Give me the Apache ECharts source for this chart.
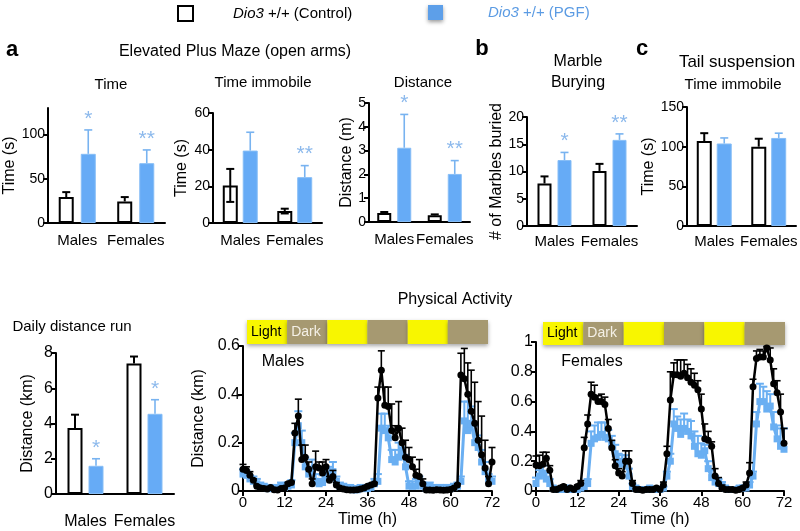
<!DOCTYPE html>
<html><head><meta charset="utf-8">
<script src="https://cdn.jsdelivr.net/npm/echarts@6/dist/echarts.min.js"></script>
<style>html,body{margin:0;padding:0;background:#fff}#c{width:800px;height:531px}</style>
</head><body><div id="c"></div>
<script>
// ---------------- data ----------------
const groups = ['Males', 'Females'];

const epmTimeCtrl = [29.3, 24.4], epmTimeCtrlSem = [5.6, 4.9];
const epmTimePgf = [78.2, 67.6], epmTimePgfSem = [27, 15];
const epmTimeSig = ['*', '**'];

const epmImmCtrl = [20.5, 6.5], epmImmCtrlSem = [9, 1.3];
const epmImmPgf = [39.5, 25], epmImmPgfSem = [10, 6.3];
const epmImmSig = ['', '**'];

const epmDistCtrl = [0.38, 0.28], epmDistCtrlSem = [0.04, 0.04];
const epmDistPgf = [3.12, 2.02], epmDistPgfSem = [1.4, 0.56];
const epmDistSig = ['*', '**'];

const marbleCtrl = [7.8, 10.1], marbleCtrlSem = [1.3, 1.3];
const marblePgf = [12.1, 15.8], marblePgfSem = [1.4, 1.1];
const marbleSig = ['*', '**'];

const tailCtrl = [107, 100], tailCtrlSem = [10, 10];
const tailPgf = [104, 111], tailPgfSem = [7, 6];
const tailSig = ['', ''];

const dailyCtrl = [3.75, 7.4], dailyCtrlSem = [0.75, 0.4];
const dailyPgf = [1.6, 4.55], dailyPgfSem = [0.4, 0.8];
const dailySig = ['*', '*'];

const hours = [0,1,2,3,4,5,6,7,8,9,10,11,12,13,14,15,16,17,18,19,20,21,22,23,24,25,26,27,28,29,30,31,32,33,34,35,36,37,38,39,40,41,42,43,44,45,46,47,48,49,50,51,52,53,54,55,56,57,58,59,60,61,62,63,64,65,66,67,68,69,70,71,72];

const malesCtrl = [0.09,0.085,0.065,0.045,0.02,0.012,0.01,0.008,0.015,0.005,
 0.004,0.01,0.012,0.03,0.035,0.24,0.31,0.13,0.14,0.09,
 0.03,0.10,0.095,0.075,0.10,0.045,0.06,0.025,0.012,0.008,
 0.005,0.004,0.004,0.005,0.008,0.012,0.02,0.025,0.03,0.385,
 0.50,0.355,0.35,0.25,0.22,0.26,0.2,0.14,0.13,0.10,
 0.065,0.06,0.03,0.004,0.004,0.003,0.005,0.004,0.003,0.004,
 0.006,0.012,0.025,0.48,0.465,0.40,0.33,0.28,0.21,0.15,
 0.095,0.03,0.12];
const malesCtrlSem = [0.02,0.015,0.015,0.005,0.005,0.003,0.003,0.003,0.003,0.003,
 0.003,0.003,0.003,0.005,0.005,0.04,0.07,0.06,0.05,0.03,
 0.02,0.065,0.025,0.045,0.03,0.015,0.025,0.01,0.003,0.003,
 0.003,0.003,0.003,0.003,0.003,0.003,0.003,0.003,0.005,0.045,
 0.08,0.075,0.08,0.11,0.05,0.11,0.06,0.07,0.05,0.04,
 0.025,0.07,0.02,0.003,0.003,0.003,0.003,0.003,0.003,0.003,
 0.003,0.003,0.005,0.09,0.125,0.13,0.17,0.17,0.16,0.16,
 0.115,0.03,0.06];
const malesPgf = [0.07,0.065,0.05,0.04,0.03,0.02,0.015,0.01,0.01,0.01,
 0.01,0.02,0.015,0.02,0.025,0.2,0.27,0.2,0.1,0.07,
 0.09,0.04,0.03,0.035,0.05,0.07,0.08,0.04,0.02,0.015,
 0.01,0.01,0.005,0.005,0.01,0.01,0.01,0.015,0.03,0.04,
 0.26,0.25,0.22,0.13,0.12,0.14,0.17,0.1,0.02,0.02,
 0.02,0.04,0.02,0.01,0.02,0.01,0.01,0.01,0.01,0.01,
 0.01,0.015,0.02,0.04,0.29,0.25,0.28,0.2,0.18,0.12,
 0.08,0.05,0.04];
const malesPgfSem = [0.02,0.02,0.015,0.02,0.02,0.015,0.015,0.015,0.015,0.015,
 0.015,0.015,0.015,0.015,0.02,0.04,0.06,0.05,0.04,0.03,
 0.04,0.03,0.02,0.03,0.05,0.03,0.04,0.02,0.015,0.015,
 0.015,0.015,0.015,0.015,0.015,0.015,0.015,0.015,0.02,0.03,
 0.06,0.07,0.05,0.04,0.05,0.06,0.03,0.05,0.02,0.02,
 0.03,0.02,0.015,0.015,0.015,0.015,0.015,0.015,0.015,0.015,
 0.015,0.015,0.015,0.02,0.08,0.12,0.07,0.07,0.05,0.05,
 0.04,0.02,0.02];
const femalesCtrl = [0.175,0.17,0.18,0.22,0.14,0.01,0.01,0.02,0.03,0.01,
 0.02,0.01,0.03,0.05,0.29,0.45,0.65,0.63,0.6,0.6,
 0.58,0.42,0.29,0.17,0.12,0.1,0.2,0.2,0.05,0.01,
 0.01,0.005,0.01,0.01,0.01,0.02,0.01,0.04,0.25,0.61,
 0.78,0.78,0.77,0.79,0.76,0.73,0.71,0.68,0.55,0.35,
 0.34,0.3,0.1,0.05,0.02,0.01,0.01,0.01,0.005,0.01,
 0.02,0.04,0.12,0.7,0.89,0.9,0.9,0.96,0.88,0.72,
 0.66,0.53,0.32];
const femalesCtrlSem = [0.06,0.07,0.08,0.04,0.03,0.01,0.01,0.01,0.01,0.01,
 0.01,0.01,0.01,0.02,0.07,0.06,0.08,0.08,0.04,0.05,
 0.05,0.06,0.05,0.04,0.03,0.03,0.07,0.07,0.02,0.01,
 0.01,0.01,0.01,0.01,0.01,0.01,0.01,0.02,0.05,0.19,
 0.08,0.1,0.11,0.09,0.09,0.09,0.08,0.06,0.1,0.1,
 0.06,0.03,0.05,0.04,0.02,0.01,0.01,0.01,0.01,0.01,
 0.01,0.02,0.07,0.05,0.05,0.05,0.04,0.01,0.08,0.1,
 0.08,0.12,0.1];
const femalesPgf = [0.05,0.1,0.12,0.08,0.05,0.02,0.01,0.01,0.01,0.02,
 0.01,0.01,0.01,0.02,0.03,0.05,0.32,0.35,0.36,0.38,
 0.36,0.35,0.32,0.25,0.2,0.18,0.2,0.1,0.03,0.02,
 0.01,0.01,0.01,0.02,0.01,0.01,0.01,0.02,0.1,0.2,
 0.45,0.42,0.38,0.42,0.4,0.37,0.3,0.25,0.24,0.27,
 0.15,0.09,0.06,0.05,0.04,0.02,0.01,0.01,0.01,0.02,
 0.02,0.02,0.04,0.1,0.45,0.6,0.6,0.55,0.57,0.43,
 0.35,0.3,0.28];
const femalesPgfSem = [0.04,0.04,0.05,0.04,0.03,0.01,0.01,0.01,0.01,0.01,
 0.01,0.01,0.01,0.01,0.02,0.03,0.08,0.09,0.1,0.08,
 0.1,0.06,0.05,0.06,0.05,0.06,0.04,0.05,0.02,0.01,
 0.01,0.01,0.01,0.01,0.01,0.01,0.01,0.01,0.03,0.05,
 0.1,0.08,0.1,0.1,0.08,0.1,0.1,0.12,0.08,0.04,
 0.05,0.05,0.04,0.03,0.02,0.01,0.01,0.01,0.01,0.01,
 0.01,0.01,0.02,0.03,0.08,0.12,0.1,0.12,0.08,0.1,
 0.09,0.12,0.14];

const phaseStart = [0, 12, 24, 36, 48, 60];
const phaseEnd = [12, 24, 36, 48, 60, 72];
const phaseLabel = ['Light', 'Dark', '', '', '', ''];

// ---------------- style / layout ----------------
const FONT = '"Liberation Sans", Arial, sans-serif';
const BLUE = '#66abf6';
const BLUE_EDGE = '#86bdf6';
const BLUE_ERR = '#78b3f0';
const BLUE_LINE = '#6aaff2';
const STAR = '#8cb9ec';
const YELLOW = '#f8f600';
const TAN = '#a69971';

const barPanels = [
  {ctrl: epmTimeCtrl, ctrlSem: epmTimeCtrlSem, ctrlLo: null, pgf: epmTimePgf, pgfSem: epmTimePgfSem, sig: epmTimeSig,
   max: 130, interval: 50, ticks: [0, 50, 100], name: 'Time (s)', box: [48, 108, 117, 115], nameGap: 28, barW: 15, gap: 7, margin: 10},
  {ctrl: epmImmCtrl, ctrlSem: epmImmCtrlSem, ctrlLo: epmImmCtrlSem, pgf: epmImmPgf, pgfSem: epmImmPgfSem, sig: epmImmSig,
   max: 60, interval: 20, ticks: null, name: 'Time (s)', box: [213, 113, 109, 110], nameGap: 23, barW: 15, gap: 5, margin: 10},
  {ctrl: epmDistCtrl, ctrlSem: epmDistCtrlSem, ctrlLo: null, pgf: epmDistPgf, pgfSem: epmDistPgfSem, sig: epmDistSig,
   max: 5, interval: 1, ticks: null, name: 'Distance (m)', box: [369, 103, 101, 119], nameGap: 14, barW: 14, gap: 6, margin: 10},
  {ctrl: marbleCtrl, ctrlSem: marbleCtrlSem, ctrlLo: null, pgf: marblePgf, pgfSem: marblePgfSem, sig: marbleSig,
   max: 20, interval: 5, ticks: null, name: '# of Marbles buried', box: [527, 117, 110, 109], nameGap: 20, barW: 14, gap: 6, margin: 8},
  {ctrl: tailCtrl, ctrlSem: tailCtrlSem, ctrlLo: null, pgf: tailPgf, pgfSem: tailPgfSem, sig: tailSig,
   max: 150, interval: 50, ticks: null, name: 'Time (s)', box: [687, 107, 111, 119], nameGap: 27, barW: 15, gap: 5, margin: 8},
  {ctrl: dailyCtrl, ctrlSem: dailyCtrlSem, ctrlLo: null, pgf: dailyPgf, pgfSem: dailyPgfSem, sig: dailySig,
   max: 8, interval: 2, ticks: null, name: 'Distance (km)', box: [56, 353, 118, 141], nameGap: 20, barW: 15, gap: 6, margin: 20, big: true}
];

const titleDefs = [
  ['a', 12, 50, 22, 'bold'],
  ['Elevated Plus Maze (open arms)', 235, 52, 16],
  ['Time', 111, 85, 15],
  ['Time immobile', 263, 83, 15],
  ['Distance', 423, 83, 15],
  ['b', 482, 49, 22, 'bold'],
  ['Marble\nBurying', 578, 72, 16],
  ['c', 642, 49, 22, 'bold'],
  ['Tail suspension', 737, 62, 17],
  ['Time immobile', 733, 85, 15],
  ['Physical Activity', 455, 300, 16],
  ['Daily distance run', 72, 327, 15],
  ['Males', 283, 362, 16],
  ['Females', 592, 362, 16]
];

// ---------------- build ----------------
const grid = [], xAxis = [], yAxis = [], series = [];

function errBarRender(sem, lo, offset, color, lw, sig, capHalf) {
  return function (params, api) {
    const i = params.dataIndex;
    const c = api.value(0), v = api.value(1);
    const base = api.coord([c, v]);
    const x = base[0] + offset;
    const top = api.coord([c, v + sem[i]])[1];
    const bot = lo ? api.coord([c, v - lo[i]])[1] : base[1];
    const st = {stroke: color, lineWidth: lw};
    const ch = [
      {type: 'line', shape: {x1: x, y1: bot, x2: x, y2: top}, style: st},
      {type: 'line', shape: {x1: x - capHalf, y1: top, x2: x + capHalf, y2: top}, style: st}
    ];
    if (lo) ch.push({type: 'line', shape: {x1: x - capHalf, y1: bot, x2: x + capHalf, y2: bot}, style: st});
    if (sig && sig[i]) ch.push({type: 'text', style: {text: sig[i], x: x, y: top - 11, align: 'center',
      verticalAlign: 'middle', fill: STAR, font: '21px ' + FONT}});
    return {type: 'group', children: ch};
  };
}

barPanels.forEach((p, gi) => {
  const fs = p.big ? 16 : 14;
  grid.push({left: p.box[0], top: p.box[1], width: p.box[2], height: p.box[3], containLabel: false});
  xAxis.push({type: 'category', gridIndex: gi, data: groups,
    axisLine: {lineStyle: {color: '#000', width: 2}},
    axisTick: {alignWithLabel: true, interval: 0, length: 5, lineStyle: {color: '#000', width: 2}},
    axisLabel: {interval: 0, color: '#000', fontSize: p.big ? 16 : 15, fontFamily: FONT, margin: p.margin}});
  const ya = {type: 'value', gridIndex: gi, min: 0, max: p.max, interval: p.interval,
    axisLine: {show: true, lineStyle: {color: '#000', width: 2}},
    axisTick: {show: true, length: 5, lineStyle: {color: '#000', width: 2}},
    axisLabel: {color: '#000', fontSize: fs, fontFamily: FONT, margin: 3},
    splitLine: {show: false},
    name: p.name, nameLocation: 'middle', nameGap: p.nameGap, nameRotate: 90,
    nameTextStyle: {color: '#000', fontSize: 16, fontFamily: FONT}};
  if (p.ticks) { ya.axisTick.customValues = p.ticks; ya.axisLabel.customValues = p.ticks; }
  yAxis.push(ya);
  const gapPct = Math.round(p.gap / p.barW * 100) + '%';
  series.push({type: 'bar', name: 'Control', xAxisIndex: gi, yAxisIndex: gi, data: p.ctrl,
    barWidth: p.barW, barGap: gapPct, z: 2,
    itemStyle: {color: '#fff', borderColor: '#000', borderWidth: 2}});
  series.push({type: 'bar', name: 'PGF', xAxisIndex: gi, yAxisIndex: gi, data: p.pgf,
    barWidth: p.barW, barGap: gapPct, z: 2,
    itemStyle: {color: BLUE, borderColor: BLUE_EDGE, borderWidth: 1}});
  const off = (p.barW + p.gap) / 2;
  series.push({type: 'custom', name: 'Control', xAxisIndex: gi, yAxisIndex: gi, z: 3,
    data: p.ctrl.map((v, i) => [i, v]), encode: {x: 0, y: 1},
    renderItem: errBarRender(p.ctrlSem, p.ctrlLo, -off, '#000', 2, null, 4)});
  series.push({type: 'custom', name: 'PGF', xAxisIndex: gi, yAxisIndex: gi, z: 3,
    data: p.pgf.map((v, i) => [i, v]), encode: {x: 0, y: 1},
    renderItem: errBarRender(p.pgfSem, null, off, BLUE_ERR, 1.6, p.sig, 4)});
});

// time-series panels
const tsPanels = [
  {ctrl: malesCtrl, ctrlSem: malesCtrlSem, pgf: malesPgf, pgfSem: malesPgfSem, max: 0.6,
   box: [243, 346, 249, 145], name: 'Distance (km)', band: [247, 320, 241, 24]},
  {ctrl: femalesCtrl, ctrlSem: femalesCtrlSem, pgf: femalesPgf, pgfSem: femalesPgfSem, max: 1,
   box: [536, 342, 248, 149], name: '', band: [543, 322, 242, 23]}
];

function tsErrRender(sem, color, lw, capHalf) {
  return function (params, api) {
    const i = params.dataIndex;
    const t = api.value(0), v = api.value(1);
    const p0 = api.coord([t, v]);
    const top = api.coord([t, v + sem[i]])[1];
    const st = {stroke: color, lineWidth: lw};
    return {type: 'group', children: [
      {type: 'line', shape: {x1: p0[0], y1: p0[1], x2: p0[0], y2: top}, style: st},
      {type: 'line', shape: {x1: p0[0] - capHalf, y1: top, x2: p0[0] + capHalf, y2: top}, style: st}
    ]};
  };
}

function bandRender(params, api) {
  const s = api.coord([api.value(0), 0]);
  const e = api.coord([api.value(1), 0]);
  const cs = params.coordSys;
  const dark = params.dataIndex % 2 === 1;
  return {type: 'group', children: [
    {type: 'rect', shape: {x: s[0], y: cs.y, width: e[0] - s[0], height: cs.height},
     style: {fill: dark ? TAN : YELLOW, shadowBlur: 4, shadowOffsetY: 2, shadowColor: 'rgba(0,0,0,0.35)'}},
    {type: 'text', style: {text: phaseLabel[params.dataIndex], x: s[0] + 4, y: cs.y + cs.height / 2,
     verticalAlign: 'middle', align: 'left', fill: dark ? '#f4f0e6' : '#000', font: '14px ' + FONT}}
  ]};
}

tsPanels.forEach((p) => {
  const gi = grid.length;
  grid.push({left: p.box[0], top: p.box[1], width: p.box[2], height: p.box[3]});
  xAxis.push({type: 'value', gridIndex: gi, min: 0, max: 72, interval: 12,
    axisLine: {lineStyle: {color: '#000', width: 2}},
    axisTick: {show: true, length: 5, lineStyle: {color: '#000', width: 2}},
    axisLabel: {color: '#000', fontSize: 15, fontFamily: FONT, margin: 4},
    splitLine: {show: false},
    name: 'Time (h)', nameLocation: 'middle', nameGap: 21,
    nameTextStyle: {color: '#000', fontSize: 16, fontFamily: FONT}});
  yAxis.push({type: 'value', gridIndex: gi, min: 0, max: p.max, interval: 0.2,
    axisLine: {show: true, lineStyle: {color: '#000', width: 2}},
    axisTick: {show: true, length: 5, lineStyle: {color: '#000', width: 2}},
    axisLabel: {color: '#000', fontSize: 16, fontFamily: FONT, margin: 3},
    splitLine: {show: false},
    name: p.name, nameLocation: 'middle', nameGap: 36, nameRotate: 90,
    nameTextStyle: {color: '#000', fontSize: 16, fontFamily: FONT}});
  const pgfData = hours.map((t, i) => [t, p.pgf[i]]);
  const ctrlData = hours.map((t, i) => [t, p.ctrl[i]]);
  series.push({type: 'custom', name: 'PGF', xAxisIndex: gi, yAxisIndex: gi, z: 2, data: pgfData,
    encode: {x: 0, y: 1}, renderItem: tsErrRender(p.pgfSem, BLUE_LINE, 2, 4)});
  series.push({type: 'line', name: 'PGF', xAxisIndex: gi, yAxisIndex: gi, z: 3, data: pgfData,
    symbol: 'rect', symbolSize: 7, lineStyle: {color: BLUE_LINE, width: 3},
    itemStyle: {color: BLUE_LINE}, animation: false});
  series.push({type: 'custom', name: 'Control', xAxisIndex: gi, yAxisIndex: gi, z: 4, data: ctrlData,
    encode: {x: 0, y: 1}, renderItem: tsErrRender(p.ctrlSem, '#000', 1.6, 3.5)});
  series.push({type: 'line', name: 'Control', xAxisIndex: gi, yAxisIndex: gi, z: 5, data: ctrlData,
    symbol: 'circle', symbolSize: 7, lineStyle: {color: '#000', width: 2.5},
    itemStyle: {color: '#000'}, animation: false});

  // light / dark band
  const bi = grid.length;
  grid.push({left: p.band[0], top: p.band[1], width: p.band[2], height: p.band[3]});
  xAxis.push({type: 'value', gridIndex: bi, min: 0, max: 72, show: false});
  yAxis.push({type: 'value', gridIndex: bi, min: 0, max: 1, show: false});
  series.push({type: 'custom', xAxisIndex: bi, yAxisIndex: bi, z: 1,
    data: phaseStart.map((s, i) => [s, phaseEnd[i]]), encode: {x: [0, 1]},
    renderItem: bandRender, silent: true});
});

const title = titleDefs.map(([text, x, y, fs, fw]) => {
  const lines = text.split('\n').length;
  const lh = Math.round(fs * 1.3);
  return {text, left: x, top: y - lh * lines / 2, textAlign: 'center', padding: 0,
    textStyle: {fontSize: fs, fontWeight: fw || 'normal', color: '#000', fontFamily: FONT, lineHeight: lh}};
});

const legend = [
  {left: 177, top: 5, padding: 0, itemWidth: 15, itemHeight: 15, selectedMode: false,
   data: [{name: 'Control', icon: 'rect', itemStyle: {color: '#fff', borderColor: '#000', borderWidth: 2}}],
   formatter: () => '{s|}{i|Dio3} +/+ (Control)',
   textStyle: {fontSize: 15, color: '#000', fontFamily: FONT,
     rich: {s: {width: 35}, i: {fontStyle: 'italic', fontSize: 15, color: '#000', fontFamily: FONT}}}},
  {left: 428, top: 5, padding: 0, itemWidth: 15, itemHeight: 15, selectedMode: false,
   data: [{name: 'PGF', icon: 'rect', itemStyle: {color: '#5d9fe9', borderWidth: 0,
     shadowBlur: 4, shadowOffsetY: 2, shadowColor: 'rgba(0,0,0,0.4)'}}],
   formatter: () => '{s|}{i|Dio3} +/+ (PGF)',
   textStyle: {fontSize: 15, color: '#5b9be3', fontFamily: FONT,
     rich: {s: {width: 40}, i: {fontStyle: 'italic', fontSize: 15, color: '#5b9be3', fontFamily: FONT}}}}
];

const chart = echarts.init(document.getElementById('c'), null, {renderer: 'canvas'});
chart.setOption({
  animation: false,
  backgroundColor: '#fff',
  textStyle: {fontFamily: FONT},
  title, legend, grid, xAxis, yAxis, series
});
</script></body></html>
